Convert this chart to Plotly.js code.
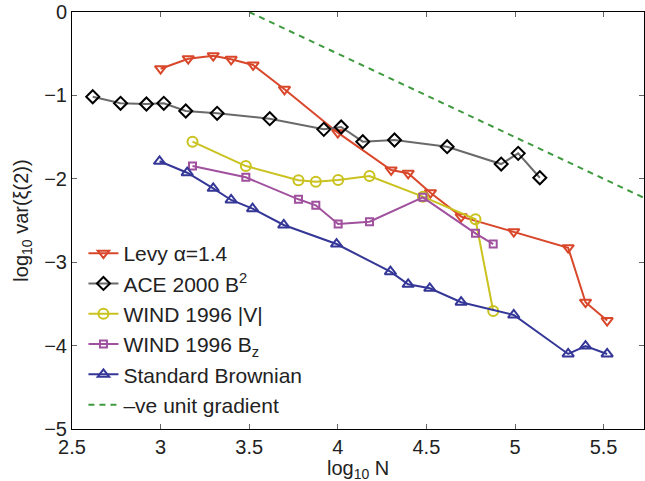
<!DOCTYPE html>
<html>
<head>
<meta charset="utf-8">
<script src="https://cdn.plot.ly/plotly-3.0.1.min.js"></script>
<style>html,body{margin:0;padding:0;background:#fff;}#chart{width:645px;height:481px;}</style>
</head>
<body>
<div id="chart"></div>
<script>
// Levy alpha=1.4
const levyX = [3.0, 3.156, 3.297, 3.398, 3.522, 3.699, 4.0, 4.301, 4.397, 4.523, 4.696, 4.993, 5.30, 5.398, 5.52];
const levyY = [-0.68, -0.56, -0.524, -0.567, -0.635, -0.927, -1.447, -1.894, -1.934, -2.167, -2.454, -2.634, -2.826, -3.48, -3.70];
// ACE 2000 B^2
const aceX = [2.617, 2.774, 2.92, 3.018, 3.142, 3.319, 3.616, 3.921, 4.019, 4.141, 4.32, 4.617, 4.922, 5.018, 5.14];
const aceY = [-1.016, -1.095, -1.103, -1.095, -1.187, -1.215, -1.279, -1.407, -1.379, -1.555, -1.535, -1.615, -1.823, -1.695, -1.987];
// WIND 1996 |V|
const windVX = [3.18, 3.481, 3.778, 3.876, 4.002, 4.179, 4.48, 4.777, 4.877];
const windVY = [-1.555, -1.847, -2.018, -2.035, -2.014, -1.966, -2.214, -2.486, -3.585];
// WIND 1996 Bz
const windBX = [3.18, 3.481, 3.778, 3.876, 4.002, 4.179, 4.48, 4.777, 4.877];
const windBY = [-1.847, -1.982, -2.246, -2.318, -2.542, -2.514, -2.222, -2.654, -2.782];
// Standard Brownian
const brownX = [2.994, 3.15, 3.297, 3.398, 3.519, 3.695, 3.993, 4.297, 4.397, 4.519, 4.696, 4.993, 5.30, 5.398, 5.52];
const brownY = [-1.79, -1.927, -2.114, -2.254, -2.358, -2.554, -2.782, -3.114, -3.265, -3.313, -3.48, -3.633, -4.10, -4.005, -4.10];
// -ve unit gradient reference line
const gradX = [3.5, 5.75];
const gradY = [0, -2.25];

const names = ['Levy α=1.4', 'ACE 2000 B<sup>2</sup>', 'WIND 1996 |V|', 'WIND 1996 B<sub>z</sub>', 'Standard Brownian', '–ve unit gradient'];
const xTickVals = [2.5, 3, 3.5, 4, 4.5, 5, 5.5];
const xTickText = ['2.5', '3', '3.5', '4', '4.5', '5', '5.5'];
const yTickVals = [-5, -4, -3, -2, -1, 0];

const traces = [
  {x: levyX, y: levyY, name: names[0], mode: 'lines+markers',
   line: {color: '#d9472b', width: 2},
   marker: {symbol: 'triangle-down-open', size: 10, color: '#d9472b', line: {width: 2, color: '#d9472b'}}},
  {x: aceX, y: aceY, name: names[1], mode: 'lines+markers',
   line: {color: '#6a6a6a', width: 2},
   marker: {symbol: 'diamond-open', size: 10, color: '#000', line: {width: 2, color: '#000'}}},
  {x: windVX, y: windVY, name: names[2], mode: 'lines+markers',
   line: {color: '#c9c21f', width: 2},
   marker: {symbol: 'circle-open', size: 10, color: '#c9c21f', line: {width: 2, color: '#c9c21f'}}},
  {x: windBX, y: windBY, name: names[3], mode: 'lines+markers',
   line: {color: '#a0519e', width: 2},
   marker: {symbol: 'square-open', size: 7, color: '#a0519e', line: {width: 2, color: '#a0519e'}}},
  {x: brownX, y: brownY, name: names[4], mode: 'lines+markers',
   line: {color: '#343797', width: 2},
   marker: {symbol: 'triangle-up-open', size: 10, color: '#343797', line: {width: 2, color: '#343797'}}},
  {x: gradX, y: gradY, name: names[5], mode: 'lines',
   line: {color: '#3f9a3f', width: 2, dash: '6px,5px'}}
];

const axisCommon = {
  showgrid: false, zeroline: false, showline: true, linecolor: '#000', linewidth: 1,
  mirror: 'ticks', ticks: 'inside', ticklen: 5, tickcolor: '#666', tickwidth: 1,
  tickfont: {family: 'Liberation Sans, Arial, sans-serif', size: 20, color: '#222'}
};

const layout = {
  width: 645, height: 481,
  margin: {l: 72, r: 1, t: 12, b: 52},
  paper_bgcolor: '#fff', plot_bgcolor: '#fff',
  font: {family: 'Liberation Sans, Arial, sans-serif', size: 20, color: '#222'},
  xaxis: Object.assign({}, axisCommon, {
    range: [2.5, 5.728], tickvals: xTickVals, ticktext: xTickText
  }),
  yaxis: Object.assign({}, axisCommon, {
    range: [-5, 0], tickvals: yTickVals,
    title: {text: 'log<sub>10</sub> var(ξ(2))', font: {size: 20, color: '#222'}, standoff: 10}
  }),
  annotations: [{
    text: 'log<sub>10</sub> N', xref: 'paper', yref: 'paper', x: 0.5, y: -0.062,
    xanchor: 'center', yanchor: 'top', showarrow: false, font: {size: 20, color: '#222'}
  }],
  showlegend: true,
  legend: {x: 0.02, y: 0.47, xanchor: 'left', yanchor: 'top', bgcolor: 'rgba(255,255,255,0)', borderwidth: 0,
           font: {size: 21, color: '#222'}, tracegroupgap: 0}
};

Plotly.newPlot('chart', traces, layout, {displayModeBar: false, staticPlot: true});
</script>
</body>
</html>
